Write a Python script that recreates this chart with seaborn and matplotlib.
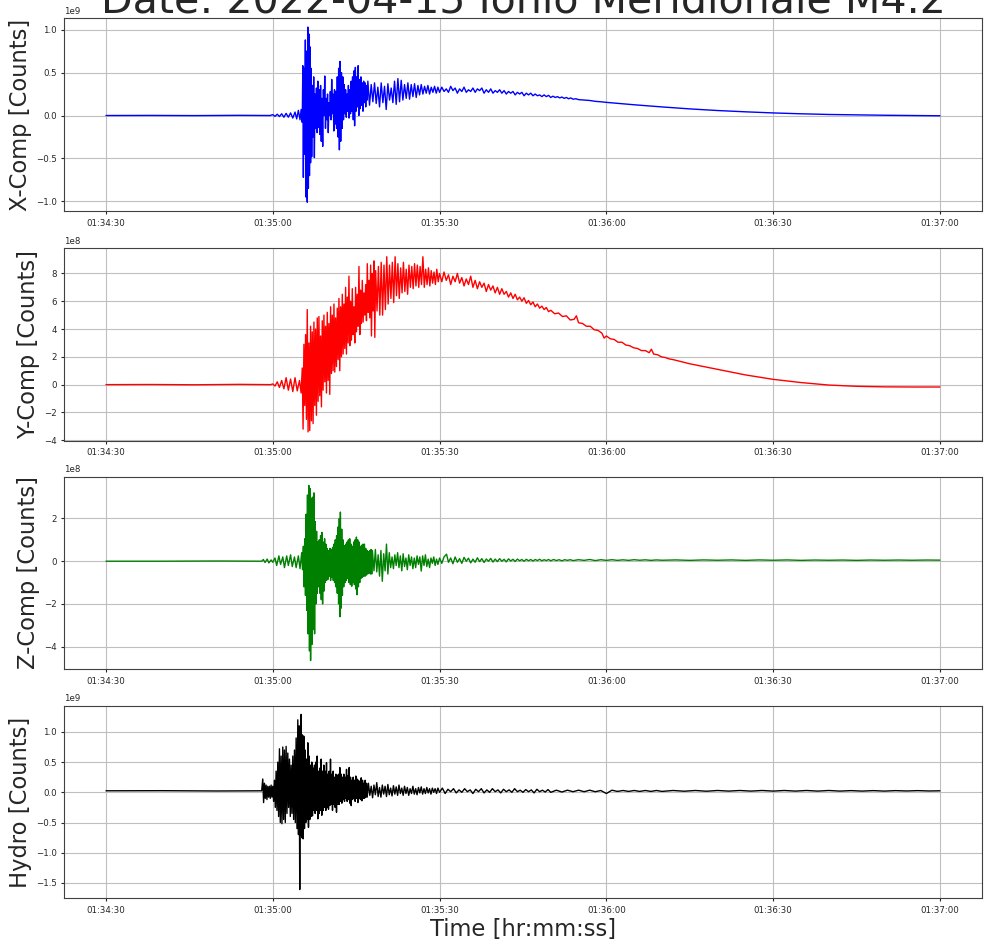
import numpy as np
import pandas as pd
import matplotlib
matplotlib.use("Agg")
import matplotlib.pyplot as plt
import matplotlib.dates as mdates
from matplotlib.ticker import MultipleLocator
import seaborn as sns

# ---------------- data ----------------
START = "2022-04-15 01:34:30"
TITLE = "Date: 2022-04-15 Ionio Meridionale M4.2"
Y_LABELS = ["X-Comp [Counts]", "Y-Comp [Counts]", "Z-Comp [Counts]", "Hydro [Counts]"]
X_LABEL = "Time [hr:mm:ss]"
COLORS = ["blue", "red", "green", "black"]
SCALES = [1e9, 1e8, 1e8, 1e9]
Y_TICK_STEPS = [0.5, 2, 2, 0.5]

# (seconds after 01:34:30, counts in units of the panel scale)
X_COMP = [
    (0, 0.0), (8, 0.001), (16, -0.001), (24, 0.002), (29.5, 0.0),
    (30.0, 0.01), (30.4, -0.01), (30.8, 0.015), (31.2, -0.012), (31.6, 0.02), (32.0, -0.02),
    (32.4, 0.025), (32.8, -0.02), (33.2, 0.03), (33.6, -0.03), (34.0, 0.04), (34.3, -0.04),
    (34.6, 0.06), (34.9, -0.05), (35.1, 0.07), (35.3, -0.08),
    (35.40, 0.58), (35.50, -0.72), (35.62, 0.55), (35.74, -0.45), (35.86, 0.88), (35.98, -0.95),
    (36.10, 0.75), (36.20, -1.01), (36.30, 1.03), (36.40, -0.85), (36.50, 0.95), (36.60, -0.70),
    (36.70, 0.80), (36.80, -0.55), (36.90, 0.55), (37.00, -0.48), (37.12, 0.35), (37.24, -0.25),
    (37.36, 0.45), (37.48, -0.49), (37.60, 0.25), (37.72, -0.15), (37.85, 0.32), (37.98, -0.20),
    (38.10, 0.40), (38.22, -0.14), (38.35, 0.30), (38.48, -0.22), (38.60, 0.35), (38.72, -0.30),
    (38.85, 0.20), (38.98, -0.36), (39.10, 0.30), (39.22, 0.0), (39.35, 0.46), (39.48, -0.15),
    (39.60, 0.20), (39.72, -0.05), (39.85, 0.25), (39.98, -0.20), (40.10, 0.15), (40.22, 0.0),
    (40.35, 0.28), (40.48, -0.05), (40.60, 0.42), (40.72, 0.02), (40.85, 0.25), (40.98, -0.18),
    (41.10, 0.30), (41.22, -0.10), (41.35, 0.28), (41.48, -0.15), (41.60, 0.45), (41.72, -0.25),
    (41.85, 0.55), (41.98, -0.40), (42.10, 0.63), (42.22, -0.30), (42.35, 0.50), (42.48, -0.15),
    (42.60, 0.45), (42.72, -0.05), (42.85, 0.36), (42.98, 0.02), (43.10, 0.30), (43.22, -0.02),
    (43.35, 0.25), (43.48, 0.05), (43.60, 0.35), (43.72, -0.03), (43.85, 0.30), (43.98, 0.02),
    (44.10, 0.40), (44.22, 0.05), (44.35, 0.45), (44.48, -0.05), (44.60, 0.52), (44.72, -0.12),
    (44.85, 0.56), (44.98, 0.05), (45.10, 0.45), (45.22, 0.10), (45.35, 0.58), (45.48, 0.0),
    (45.60, 0.42), (45.72, 0.08), (45.85, 0.45), (45.98, 0.12), (46.10, 0.38), (46.22, 0.05),
    (46.35, 0.40), (46.48, 0.15), (46.60, 0.38), (46.72, 0.10), (46.85, 0.35), (46.98, 0.18),
    (47.1, 0.40), (47.4, 0.12), (47.7, 0.36), (48.0, 0.16), (48.3, 0.38), (48.6, 0.14),
    (48.9, 0.33), (49.2, 0.10), (49.5, 0.38), (49.8, 0.15), (50.1, 0.34), (50.4, 0.07),
    (50.7, 0.37), (51.0, 0.18), (51.3, 0.32), (51.6, 0.15), (51.9, 0.40), (52.2, 0.13),
    (52.5, 0.43), (52.8, 0.16), (53.1, 0.41), (53.4, 0.18), (53.7, 0.36), (54.0, 0.20),
    (54.3, 0.38), (54.6, 0.19), (54.9, 0.36), (55.2, 0.22), (55.5, 0.37), (55.8, 0.21),
    (56.1, 0.35), (56.4, 0.24), (56.7, 0.36), (57.0, 0.25), (57.3, 0.34), (57.6, 0.26),
    (57.9, 0.35), (58.2, 0.25), (58.5, 0.33), (58.8, 0.27), (59.1, 0.34), (59.4, 0.26),
    (59.7, 0.33),
    (60.0, 0.27), (60.4, 0.33), (60.8, 0.28), (61.2, 0.31), (61.6, 0.27), (62.0, 0.34),
    (62.4, 0.29), (62.8, 0.32), (63.2, 0.26), (63.6, 0.31), (64.0, 0.28), (64.4, 0.33),
    (64.8, 0.27), (65.2, 0.30), (65.6, 0.28), (66.0, 0.32), (66.4, 0.27), (66.8, 0.31),
    (67.2, 0.29), (67.6, 0.32), (68.0, 0.26), (68.4, 0.30), (68.8, 0.27), (69.2, 0.31),
    (69.6, 0.26), (70.0, 0.29), (70.4, 0.27), (70.8, 0.30), (71.2, 0.26), (71.6, 0.29),
    (72.0, 0.25), (72.4, 0.28), (72.8, 0.26), (73.2, 0.28), (73.6, 0.24), (74.0, 0.27),
    (74.4, 0.25), (74.8, 0.27), (75.2, 0.23), (75.6, 0.26), (76.0, 0.24), (76.4, 0.26),
    (76.8, 0.23), (77.2, 0.25), (77.6, 0.23), (78.0, 0.24), (78.4, 0.22), (78.8, 0.24),
    (79.2, 0.22), (79.6, 0.235), (80.0, 0.21), (80.4, 0.225), (80.8, 0.21), (81.2, 0.22),
    (81.6, 0.205), (82.0, 0.215), (82.4, 0.20), (82.8, 0.21), (83.2, 0.195), (83.6, 0.205),
    (84.0, 0.19), (84.5, 0.195), (85.0, 0.185),
    (86.0, 0.18), (87.0, 0.175), (88.0, 0.165), (89.0, 0.16), (90.0, 0.153),
    (95, 0.125), (100, 0.10), (105, 0.077), (110, 0.058), (115, 0.043), (120, 0.03),
    (125, 0.02), (130, 0.012), (135, 0.007), (140, 0.003), (145, 0.0), (150, -0.003),
]

Y_COMP = [
    (0, 0.0), (8, 0.01), (16, -0.01), (24, 0.02), (29.6, 0.0),
    (30.0, 0.05), (30.4, -0.1), (30.8, 0.2), (31.2, -0.2), (31.6, 0.3), (32.0, -0.3),
    (32.4, 0.5), (32.8, -0.4), (33.2, 0.4), (33.6, -0.5), (34.0, 0.5), (34.4, -0.45),
    (34.8, 0.3), (35.1, -0.6),
    (35.30, 1.2), (35.45, -3.2), (35.60, 2.9), (35.75, -1.5), (35.90, 3.6), (36.05, -2.5),
    (36.20, 5.4), (36.35, -3.4), (36.50, 3.0), (36.65, -3.3), (36.80, 4.2), (36.95, -2.6),
    (37.10, 3.8), (37.25, -2.8), (37.40, 4.5), (37.55, -1.5), (37.70, 4.0), (37.85, -2.2),
    (38.00, 4.8), (38.15, -1.2), (38.30, 4.9), (38.45, -0.8), (38.60, 3.5), (38.75, -1.6),
    (38.90, 4.6), (39.05, -0.4), (39.20, 5.0), (39.35, 0.2), (39.50, 4.2), (39.65, -0.6),
    (39.80, 5.2), (39.95, 0.3), (40.10, 4.4), (40.25, -0.7), (40.40, 5.6), (40.55, 0.8),
    (40.70, 5.0), (40.85, 1.0), (41.00, 5.8), (41.15, 0.9), (41.30, 4.8), (41.45, 1.3),
    (41.60, 5.5), (41.75, 1.8), (41.90, 6.2), (42.05, 1.0), (42.20, 5.6), (42.35, 2.0),
    (42.50, 6.5), (42.65, 2.2), (42.80, 5.8), (42.95, 2.6), (43.10, 7.0), (43.25, 2.2),
    (43.40, 6.3), (43.55, 3.0), (43.70, 7.8), (43.85, 2.8), (44.00, 6.0), (44.15, 3.2),
    (44.30, 6.9), (44.45, 3.6), (44.60, 5.6), (44.75, 3.0), (44.90, 7.0), (45.05, 3.8),
    (45.20, 6.5), (45.35, 4.2), (45.50, 8.5), (45.65, 3.6), (45.80, 6.8), (45.95, 4.4),
    (46.10, 7.5), (46.25, 4.5), (46.40, 6.6), (46.55, 5.0), (46.70, 7.2), (46.85, 4.6),
    (47.00, 8.7), (47.15, 5.2), (47.30, 7.5), (47.45, 4.8), (47.60, 8.6), (47.75, 3.5),
    (47.90, 8.0), (48.05, 5.3), (48.20, 8.9), (48.35, 3.4), (48.50, 8.2),
    (48.75, 5.3), (49.0, 8.5), (49.25, 5.0), (49.5, 8.8), (49.75, 5.0), (50.0, 8.6),
    (50.25, 5.4), (50.5, 9.2), (50.75, 5.8), (51.0, 8.6), (51.25, 6.2), (51.5, 8.8),
    (51.75, 5.9), (52.0, 9.2), (52.25, 6.4), (52.5, 8.7), (52.75, 6.2), (53.0, 8.4),
    (53.25, 6.6), (53.5, 8.8), (53.75, 6.7), (54.0, 8.3), (54.25, 6.5), (54.5, 8.6),
    (54.75, 7.0), (55.0, 8.5), (55.25, 6.9), (55.5, 8.7), (55.75, 7.1), (56.0, 8.6),
    (56.25, 7.0), (56.5, 8.5), (56.75, 7.2), (57.0, 9.2), (57.25, 7.0), (57.5, 8.3),
    (57.75, 7.2), (58.0, 8.4), (58.25, 7.1), (58.5, 8.2), (58.75, 7.3), (59.0, 8.1),
    (59.25, 7.2), (59.5, 8.3), (59.75, 7.4),
    (60.0, 8.0), (60.4, 7.4), (60.8, 8.1), (61.2, 7.5), (61.6, 7.9), (62.0, 7.2),
    (62.4, 7.8), (62.8, 7.4), (63.2, 8.0), (63.6, 7.3), (64.0, 7.7), (64.4, 7.1),
    (64.8, 7.6), (65.2, 7.2), (65.6, 7.8), (66.0, 7.0), (66.4, 7.5), (66.8, 6.9),
    (67.2, 7.4), (67.6, 7.0), (68.0, 7.3), (68.4, 6.7), (68.8, 7.2), (69.2, 6.8),
    (69.6, 7.1), (70.0, 6.6), (70.4, 7.0), (70.8, 6.5), (71.2, 6.9), (71.6, 6.5),
    (72.0, 6.7), (72.4, 6.3), (72.8, 6.6), (73.2, 6.2), (73.6, 6.5), (74.0, 6.1),
    (74.4, 6.3), (74.8, 6.0), (75.2, 6.25), (75.6, 5.85), (76.0, 6.05), (76.4, 5.75),
    (76.8, 5.95), (77.2, 5.6), (77.6, 5.8), (78.0, 5.5), (78.4, 5.65), (78.8, 5.4),
    (79.2, 5.55), (79.6, 5.25), (80.0, 5.35),
    (80.7, 5.1), (81.4, 5.15), (82.1, 4.9), (82.8, 4.95), (83.5, 4.65), (84.2, 4.7),
    (84.6, 4.95), (85.0, 4.45), (85.7, 4.4), (86.4, 4.2), (87.1, 4.2), (87.8, 3.95),
    (88.5, 3.9), (89.2, 3.7), (89.6, 3.35), (90.0, 3.5), (90.7, 3.3), (91.4, 3.25),
    (92.1, 3.05), (92.8, 3.05), (93.5, 2.85), (94.2, 2.8), (94.9, 2.65), (95.6, 2.6),
    (96.3, 2.45), (97.0, 2.45), (97.7, 2.3), (98.1, 2.55), (98.5, 2.2), (99.2, 2.15),
    (99.9, 2.0), (100.6, 1.95), (101.3, 1.85), (102.0, 1.8), (103.0, 1.7), (104.0, 1.6),
    (105, 1.5),
    (110, 1.1), (115, 0.7), (120, 0.38), (125, 0.15), (130, -0.03), (135, -0.12),
    (140, -0.16), (145, -0.17), (150, -0.17),
]

Z_COMP = [
    (0, 0.0), (10, 0.0), (20, 0.01), (28.0, 0.0),
    (28.3, 0.08), (28.6, -0.06), (29.0, 0.1), (29.3, -0.08), (29.7, 0.06), (30.0, -0.05),
    (30.4, 0.15), (30.7, -0.2), (31.1, 0.25), (31.4, -0.15), (31.8, 0.2), (32.1, -0.3),
    (32.5, 0.25), (32.8, -0.2), (33.2, 0.3), (33.5, -0.25), (33.9, 0.2), (34.2, -0.3),
    (34.6, 0.25), (34.9, -0.35), (35.2, 0.4),
    (35.35, -0.4), (35.5, 0.7), (35.62, -1.2), (35.75, 1.05), (35.88, -1.6), (36.0, 2.2),
    (36.12, -2.3), (36.24, 3.1), (36.36, -3.4), (36.48, 3.55), (36.6, -4.2), (36.72, 3.4),
    (36.8, -4.65), (36.92, 2.95), (37.04, -3.9), (37.16, 3.0), (37.28, -3.2), (37.4, 3.2),
    (37.52, -3.4), (37.64, 1.85), (37.76, -2.0), (37.88, 1.4), (38.0, -1.5), (38.12, 0.9),
    (38.24, -1.2), (38.36, 1.0), (38.48, -1.5), (38.6, 1.2), (38.72, -1.8), (38.84, 1.35),
    (38.96, -2.0), (39.08, 0.9), (39.2, -1.4), (39.32, 1.05), (39.44, -1.0), (39.56, 0.8),
    (39.68, -0.9), (39.8, 0.6), (39.92, -0.85), (40.04, 0.5), (40.16, -0.7), (40.28, 0.6),
    (40.4, -0.9), (40.52, 0.55), (40.64, -0.75), (40.76, 0.65), (40.88, -0.9), (41.0, 0.8),
    (41.12, -1.0), (41.24, 1.0), (41.36, -1.2), (41.48, 1.2), (41.6, -1.5), (41.72, 1.6),
    (41.84, -2.0), (41.96, 2.0), (42.08, -2.6), (42.16, 2.3), (42.28, -2.2), (42.4, 1.5),
    (42.52, -1.6), (42.64, 1.0), (42.76, -1.2), (42.88, 0.73), (43.0, -1.0), (43.12, 0.8),
    (43.24, -0.9), (43.36, 0.9), (43.48, -0.8), (43.6, 1.0), (43.72, -1.0), (43.84, 1.05),
    (43.96, -1.1), (44.08, 0.8), (44.2, -1.17), (44.32, 0.7), (44.44, -1.0), (44.56, 0.9),
    (44.68, -1.1), (44.8, 1.0), (44.92, -1.3), (45.04, 1.13), (45.16, -1.57), (45.28, 1.0),
    (45.4, -1.2), (45.52, 0.9), (45.64, -1.0), (45.76, 0.7), (45.88, -0.8), (46.0, 0.75),
    (46.12, -0.75), (46.24, 0.8), (46.36, -0.7), (46.48, 0.8), (46.6, -0.7), (46.72, 0.6),
    (46.84, -0.65), (46.96, 0.5), (47.08, -0.6), (47.2, 0.45), (47.32, -0.55), (47.44, 0.5),
    (47.56, -0.6), (47.68, 0.55), (47.8, -0.6), (47.92, 0.5),
    (48.2, -0.45), (48.45, 0.55), (48.7, -0.5), (48.95, 0.3), (49.2, -0.7), (49.45, 0.5),
    (49.7, -0.94), (49.95, 0.35), (50.2, -0.45), (50.45, 0.8), (50.7, -0.6), (50.95, 0.4),
    (51.2, -0.3), (51.45, 0.2), (51.7, -0.35), (51.95, 0.3), (52.2, -0.2), (52.45, 0.4),
    (52.7, -0.3), (52.95, 0.25), (53.2, -0.45), (53.45, 0.35), (53.7, -0.25), (53.95, 0.15),
    (54.2, -0.4), (54.45, 0.3), (54.7, -0.2), (54.95, 0.2), (55.2, -0.35), (55.45, 0.15),
    (55.7, -0.3), (55.95, 0.25), (56.2, -0.15), (56.45, 0.2), (56.7, -0.46), (56.95, 0.25),
    (57.2, -0.2), (57.45, 0.3), (57.7, -0.25), (57.95, 0.1), (58.2, -0.3), (58.45, 0.15),
    (58.7, -0.1), (58.95, 0.2), (59.2, -0.2), (59.45, 0.1), (59.7, -0.15),
    (60.0, 0.15), (60.4, -0.1), (60.8, 0.2), (61.25, 0.33), (61.6, -0.05), (62.0, 0.15),
    (62.4, -0.12), (62.8, 0.2), (63.2, -0.05), (63.6, 0.12), (64.0, -0.1), (64.4, 0.18),
    (64.8, 0.0), (65.2, 0.14), (65.6, -0.08), (66.0, 0.1), (66.4, -0.05), (66.8, 0.16),
    (67.2, -0.02), (67.6, 0.12), (68.0, -0.06), (68.4, 0.1), (68.8, 0.0), (69.2, 0.13),
    (69.6, -0.04), (70.0, 0.1), (70.4, -0.02), (70.8, 0.12), (71.2, 0.0), (71.6, 0.09),
    (72.0, -0.03), (72.4, 0.11), (72.8, 0.01), (73.2, 0.09), (73.6, -0.01), (74.0, 0.1),
    (74.4, 0.02), (74.8, 0.08), (75.2, 0.0), (75.6, 0.09), (76.0, 0.02), (76.4, 0.08),
    (76.8, 0.01), (77.2, 0.08), (77.6, 0.03), (78.0, 0.09), (78.4, 0.02), (78.8, 0.07),
    (79.2, 0.03), (79.6, 0.08), (80.0, 0.02), (80.5, 0.08), (81.0, 0.03), (81.5, 0.07),
    (82.0, 0.02), (82.5, 0.07), (83.0, 0.04), (83.5, 0.07), (84.0, 0.03),
    (85.0, 0.07), (86.0, 0.04), (87.0, 0.08), (88.0, 0.03), (89.0, 0.07), (90.0, 0.04),
    (91.0, 0.07), (92.0, 0.04), (93.0, 0.065), (94.0, 0.04), (95.0, 0.07), (96.0, 0.045),
    (97.0, 0.065), (98.0, 0.04), (99.0, 0.06), (100.0, 0.045),
    (102.5, 0.06), (105, 0.04), (107.5, 0.06), (110, 0.045), (112.5, 0.06), (115, 0.04),
    (117.5, 0.06), (120, 0.045), (122.5, 0.06), (125, 0.04), (127.5, 0.055), (130, 0.045),
    (132.5, 0.055), (135, 0.04), (137.5, 0.055), (140, 0.045), (142.5, 0.055), (145, 0.045),
    (147.5, 0.055), (150, 0.05),
]

HYDRO = [
    (0, 0.025), (10, 0.027), (20, 0.022), (28.0, 0.025),
    (28.2, 0.22), (28.35, -0.17), (28.5, 0.15), (28.65, -0.1), (28.8, 0.12), (28.95, -0.12),
    (29.1, 0.1), (29.25, -0.08), (29.4, 0.1), (29.55, -0.1), (29.7, 0.12), (29.85, -0.08),
    (30.0, 0.1), (30.15, -0.15), (30.3, 0.2), (30.45, -0.25), (30.6, 0.35), (30.75, -0.3),
    (30.9, 0.5), (31.05, -0.4), (31.2, 0.72), (31.35, -0.5), (31.5, 0.6), (31.65, -0.52),
    (31.8, 0.75), (31.95, -0.45), (32.1, 0.7), (32.25, -0.5), (32.4, 0.76), (32.55, -0.35),
    (32.7, 0.65), (32.85, -0.25), (33.0, 0.55), (33.15, -0.4), (33.3, 0.45), (33.45, -0.35),
    (33.6, 0.6), (33.75, -0.45), (33.9, 0.7), (34.05, -0.5), (34.2, 0.9), (34.35, -0.6),
    (34.5, 1.2), (34.62, -0.7), (34.74, 1.1), (34.85, -1.61), (34.95, 0.9), (35.02, -0.7),
    (35.1, 1.29), (35.22, -0.75), (35.34, 0.95), (35.46, -0.77), (35.58, 0.93), (35.7, -0.6),
    (35.82, 0.7), (35.94, -0.5), (36.06, 0.55), (36.18, -0.45), (36.3, 0.82), (36.42, -0.58),
    (36.54, 0.6), (36.66, -0.45), (36.78, 0.45), (36.9, -0.4), (37.02, 0.5), (37.14, -0.39),
    (37.26, 0.4), (37.38, -0.3), (37.5, 0.45), (37.62, -0.35), (37.74, 0.5), (37.86, -0.3),
    (37.98, 0.6), (38.1, -0.44), (38.22, 0.35), (38.34, -0.35), (38.46, 0.4), (38.58, -0.3),
    (38.7, 0.55), (38.82, -0.38), (38.94, 0.35), (39.06, -0.3), (39.18, 0.45), (39.3, -0.25),
    (39.42, 0.35), (39.54, -0.3), (39.66, 0.49), (39.78, -0.25), (39.9, 0.3), (40.02, -0.28),
    (40.14, 0.35), (40.26, -0.22), (40.38, 0.55), (40.5, -0.2), (40.62, 0.3), (40.74, -0.3),
    (40.86, 0.35), (40.98, -0.2), (41.1, 0.25), (41.22, -0.25), (41.34, 0.3), (41.46, -0.33),
    (41.58, 0.28), (41.7, -0.2), (41.82, 0.3), (41.94, -0.2), (42.06, 0.41), (42.18, -0.15),
    (42.3, 0.3), (42.42, -0.18), (42.54, 0.25), (42.66, -0.12), (42.78, 0.3), (42.9, -0.15),
    (43.02, 0.25), (43.14, -0.1), (43.26, 0.38), (43.38, -0.15), (43.5, 0.28), (43.62, -0.12),
    (43.74, 0.41), (43.86, -0.18), (43.98, 0.25), (44.1, -0.22), (44.22, 0.2), (44.34, -0.12),
    (44.46, 0.25), (44.58, -0.1), (44.7, 0.2), (44.82, -0.15), (44.94, 0.27), (45.06, -0.1),
    (45.18, 0.22), (45.3, -0.17), (45.42, 0.2), (45.54, -0.1), (45.66, 0.18), (45.78, -0.12),
    (45.9, 0.24), (46.02, -0.14), (46.14, 0.2), (46.26, -0.1), (46.38, 0.15), (46.5, -0.1),
    (46.62, 0.2), (46.74, -0.08), (46.86, 0.15), (46.98, -0.08),
    (47.2, 0.15), (47.45, -0.05), (47.7, 0.1), (47.95, -0.09), (48.2, 0.12), (48.45, -0.04),
    (48.7, 0.16), (48.95, -0.07), (49.2, 0.08), (49.45, -0.08), (49.7, 0.12), (49.95, -0.03),
    (50.2, 0.1), (50.45, -0.07), (50.7, 0.13), (50.95, -0.04), (51.2, 0.07), (51.45, -0.06),
    (51.7, 0.11), (51.95, -0.03), (52.2, 0.09), (52.45, -0.05), (52.7, 0.12), (52.95, -0.02),
    (53.2, 0.07), (53.45, -0.05), (53.7, 0.1), (53.95, -0.02), (54.2, 0.08), (54.45, -0.05),
    (54.7, 0.06), (54.95, -0.02), (55.2, 0.1), (55.45, -0.03), (55.7, 0.06), (55.95, -0.04),
    (56.2, 0.08), (56.45, -0.01), (56.7, 0.09), (56.95, -0.03), (57.2, 0.06), (57.45, -0.02),
    (57.7, 0.08), (57.95, -0.01), (58.2, 0.06), (58.45, -0.03), (58.7, 0.07), (58.95, 0.0),
    (59.2, 0.06), (59.45, -0.02), (59.7, 0.07),
    (60.0, 0.0), (60.5, 0.07), (61.0, -0.02), (61.5, 0.05), (62.0, 0.01), (62.5, 0.06),
    (63.0, -0.01), (63.5, 0.04), (64.0, 0.0), (64.5, 0.06), (65.0, 0.01), (65.5, 0.04),
    (66.0, -0.02), (66.5, 0.05), (67.0, 0.01), (67.5, 0.06), (68.0, -0.01), (68.5, 0.04),
    (69.0, 0.0), (69.5, 0.06), (70.0, 0.01), (70.5, 0.04), (71.0, -0.01), (71.5, 0.05),
    (72.0, 0.01), (72.5, 0.04), (73.0, 0.0), (73.5, 0.06), (74.0, 0.01), (74.5, 0.035),
    (75.0, 0.0), (75.5, 0.045), (76.0, 0.01), (76.5, 0.04), (77.0, -0.01), (77.5, 0.05),
    (78.0, 0.01), (78.5, 0.035), (79.0, 0.005), (79.5, 0.045), (80.0, 0.0),
    (81, 0.035), (82, 0.005), (83, 0.035), (84, 0.01), (85, 0.035), (86, 0.01),
    (87, 0.035), (88, 0.01), (89, 0.03), (90, -0.02), (91, 0.035), (92, 0.015),
    (93, 0.03), (94, 0.015), (95, 0.03), (96, 0.015), (97, 0.03), (98, 0.015),
    (99, 0.03), (100, 0.015),
    (102, 0.03), (104, 0.018), (106, 0.03), (108, 0.018), (110, 0.03), (112, 0.02),
    (114, 0.03), (116, 0.02), (118, 0.03), (120, 0.02), (122, 0.03), (124, 0.02),
    (126, 0.03), (128, 0.02), (130, 0.03), (132, 0.02), (134, 0.028), (136, 0.02),
    (138, 0.028), (140, 0.02), (142, 0.028), (144, 0.022), (146, 0.028), (148, 0.022),
    (150, 0.025),
]

TRACES = [X_COMP, Y_COMP, Z_COMP, HYDRO]

# ---------------- style ----------------
sns.set_style("whitegrid", rc={
    "axes.edgecolor": "0.25",
    "axes.linewidth": 0.9,
    "grid.color": "0.75",
    "grid.linewidth": 0.65,
    "xtick.bottom": True,
    "ytick.left": True,
    "xtick.color": "0.15",
    "ytick.color": "0.15",
})
plt.rcParams["font.family"] = ["DejaVu Sans"]
plt.rcParams["xtick.major.size"] = 2.5
plt.rcParams["ytick.major.size"] = 2.5
plt.rcParams["xtick.major.pad"] = 3
plt.rcParams["ytick.major.pad"] = 3

fig = plt.figure(figsize=(9.86, 9.44), dpi=100)

LEFT, WIDTH, HEIGHT = 0.0652, 0.9304, 0.2041
BOTTOMS = [0.7765, 0.5332, 0.2910, 0.0484]

t0 = pd.Timestamp(START)
axes = []
for i, (trace, scale, color, ylab, step) in enumerate(
        zip(TRACES, SCALES, COLORS, Y_LABELS, Y_TICK_STEPS)):
    ax = fig.add_axes([LEFT, BOTTOMS[i], WIDTH, HEIGHT])
    secs = np.array([p[0] for p in trace], dtype=float)
    vals = np.array([p[1] for p in trace], dtype=float) * scale
    df = pd.DataFrame({"time": t0 + pd.to_timedelta(secs, unit="s"), "counts": vals})
    sns.lineplot(data=df, x="time", y="counts", ax=ax, color=color,
                 linewidth=1.0, estimator=None, sort=False)
    ax.xaxis.set_major_locator(mdates.SecondLocator(bysecond=[0, 30]))
    ax.xaxis.set_major_formatter(mdates.DateFormatter("%H:%M:%S"))
    ax.yaxis.set_major_locator(MultipleLocator(step * scale))
    ax.tick_params(axis="both", labelsize=6.2)
    ax.yaxis.get_offset_text().set_fontsize(6.2)
    ax.set_ylabel(ylab, fontsize=16.3, labelpad=3)
    ax.set_xlabel("")
    ax.grid(True)
    axes.append(ax)

axes[-1].set_xlabel(X_LABEL, fontsize=16.3, labelpad=2)

fig.text((LEFT + WIDTH / 2), 931.3 / 944, TITLE, fontsize=29.6,
         ha="center", va="baseline")

fig.savefig("out.png", dpi=100)
